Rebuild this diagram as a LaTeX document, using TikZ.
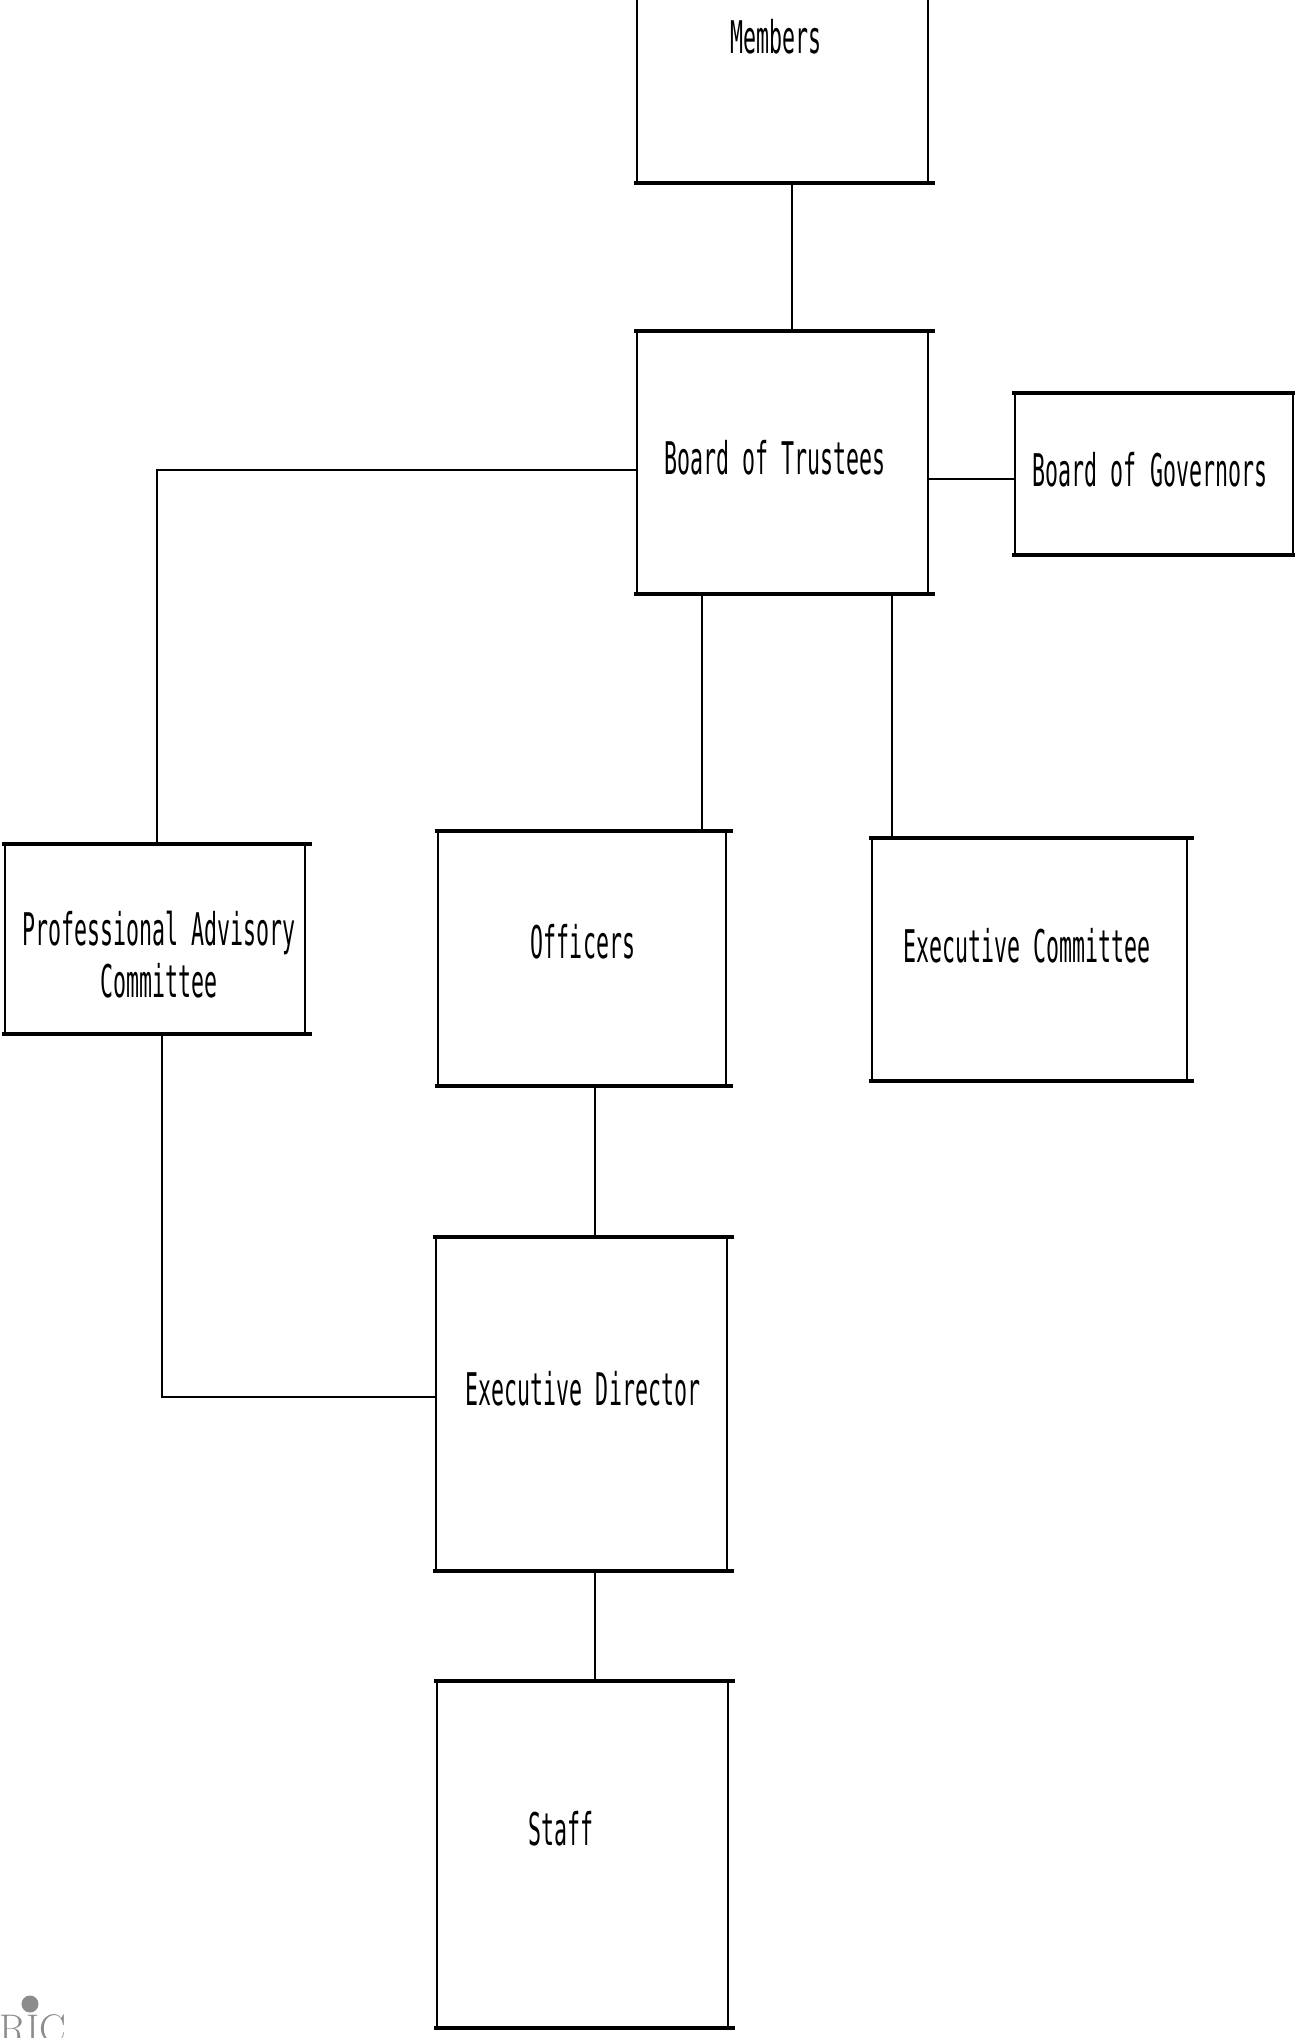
\documentclass[tikz,border=0pt]{standalone}
\usepackage{fontspec}
\newfontfamily\typ[FakeStretch=0.48]{DejaVu Sans Mono}
\begin{document}
\begin{tikzpicture}[x=1pt,y=-1pt,
  boxshape/.style={rectangle,draw=black,line width=2.2pt,inner sep=0pt,
    minimum width=#1},
  lbl/.style={inner sep=0pt,anchor=base,font=\typ\fontsize{45}{52}\selectfont},
  conn/.style={draw=black,line width=2.2pt},
  edge/.style={draw=black,line width=4.5pt}]
\useasboundingbox[fill=white] (0,0) rectangle (1295,2038);
% boxes (center, width, height)
\node[boxshape=291pt,minimum height=202pt] (mem) at (782.5,81) {};
\node[boxshape=291pt,minimum height=261pt] (bot) at (782.5,462.5) {};
\node[boxshape=278pt,minimum height=160pt] (bog) at (1154,474) {};
\node[boxshape=300pt,minimum height=188pt] (pac) at (155,939) {};
\node[boxshape=288pt,minimum height=253pt] (off) at (582,958.5) {};
\node[boxshape=315pt,minimum height=241pt] (exc) at (1029.5,959.5) {};
\node[boxshape=291pt,minimum height=332pt] (ed) at (581.5,1404) {};
\node[boxshape=291pt,minimum height=345pt] (stf) at (582.5,1854.5) {};
% thick top and bottom edges
\foreach \n in {mem,bot,bog,pac,off,exc,ed,stf}{
  \path[edge] ([xshift=-2pt]\n.north west) -- ([xshift=6pt]\n.north east);
  \path[edge] ([xshift=-2pt]\n.south west) -- ([xshift=6pt]\n.south east);
}
% labels
\node[lbl] (tmem) at (776,53) {Members};
\node[lbl] (tbot) at (775,474) {Board of Trustees};
\node[lbl] (tbog) at (1150,486) {Board of Governors};
\node[lbl] (tpac1) at (159,945) {Professional Advisory};
\node[lbl] (tpac2) at (159,997) {Committee};
\node[lbl] (toff) at (583,958) {Officers};
\node[lbl] (texc) at (1027,962) {Executive Committee};
\node[lbl] (ted) at (583,1405) {Executive Director};
\node[lbl] (tstf) at (561,1845) {Staff};
% connector coordinates
\coordinate (xa) at (792,0);
\coordinate (xb) at (702,0);
\coordinate (xc) at (892,0);
\coordinate (xd) at (595,0);
\coordinate (xe) at (157,0);
\coordinate (xf) at (162,0);
\coordinate (ya) at (0,470);
\coordinate (yb) at (0,479);
\coordinate (yc) at (0,1397);
% connectors
\path[conn] (mem.south -| xa) -- (bot.north -| xa);
\path[conn] (bot.east |- yb) -- (bog.west |- yb);
\path[conn] (bot.west |- ya) -- (xe |- ya) -- (pac.north -| xe);
\path[conn] (bot.south -| xb) -- (off.north -| xb);
\path[conn] (bot.south -| xc) -- (exc.north -| xc);
\path[conn] (off.south -| xd) -- (ed.north -| xd);
\path[conn] (pac.south -| xf) -- (xf |- yc) -- (ed.west |- yc);
\path[conn] (ed.south -| xd) -- (stf.north -| xd);
% ERIC mark, cut by the page edge
\node[circle,fill=black!45,minimum size=17pt,inner sep=0pt] (globe) at (30,2004) {};
\node[anchor=north west,inner sep=0pt,text=black!45,font=\fontsize{40}{40}\selectfont] (eric) at (-26,2014) {ERIC};
\end{tikzpicture}
\end{document}
